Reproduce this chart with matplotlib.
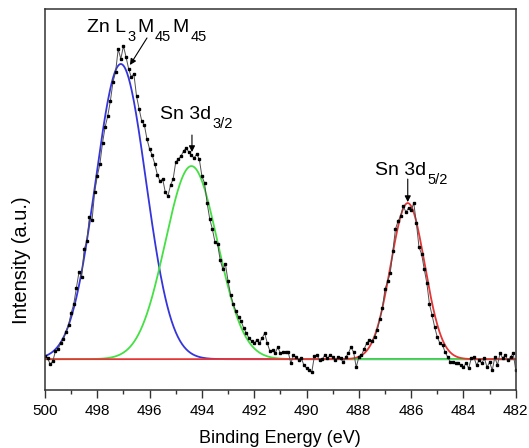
import numpy as np
import matplotlib.pyplot as plt
import matplotlib.transforms as mtransforms

plt.rcParams["font.family"] = "Liberation Sans"

# measured spectrum, 0.1 eV steps from 500.0 eV down to 482.0 eV (background subtracted)
counts = [
    3, 1, -5, -2, 8, 10, 16, 20, 27, 34,
    46, 55, 71, 87, 82, 110, 118, 142, 139, 167,
    183, 195, 216, 232, 243, 258, 277, 287, 310, 300,
    313, 302, 290, 282, 285, 263, 250, 238, 234, 220,
    210, 204, 195, 184, 178, 180,
    167, 163, 174, 180, 197, 200, 203, 208, 211, 207,
    204, 201, 205, 200, 183, 176, 156, 140, 130, 117,
    115, 99, 90, 95, 78, 64, 55, 48, 42, 38,
    31, 26, 21, 18, 16, 19, 16, 21, 26, 16,
    8, 9, 6, 12, 6, 7,
    7, 7, -4, 4, 2, -1, 1, -6, -9, -11,
    -13, 3, 4, -1, 0, 4, 1, 4, 2, -1,
    2, 1, -3, 2, 6, 12, 7, -8, 2, 4,
    10, 16, 19, 18, 22, 29, 40, 51, 70, 78,
    86, 108, 130, 138, 143, 153, 147, 151, 149, 156,
    136, 112, 105, 90, 76, 55, 44, 32, 22, 16,
    14, 7, 2, -3, -3, -4, -4, -6, -8, -4,
    -9, 1, 2, -6, -1, -4, 1, -8, -3, -11,
    2, -6, 6, 1, 4, -1, 2, 6, -11,
]
energy = np.linspace(500.0, 482.0, len(counts))

# fitted gaussian components: Zn L3M45M45, Sn 3d3/2, Sn 3d5/2
peak_centers = [497.1, 494.4, 486.13]
peak_heights = [295, 193, 156]
peak_sigmas = [0.96, 1.0, 0.65]
peak_colors = ["#3535dc", "#44e044", "#e53535"]

fig = plt.figure(figsize=(5.29, 4.48), dpi=100)
ax = fig.add_axes([0.085, 0.129, 0.890, 0.851])

fine = np.linspace(500, 482, 901)
for c, h, s, col in zip(peak_centers, peak_heights, peak_sigmas, peak_colors):
    ax.plot(fine, h * np.exp(-(fine - c) ** 2 / (2 * s ** 2)), color=col, lw=1.3)

ax.plot(energy, counts, color="#505050", lw=0.7, marker="s", ms=2.0,
        mfc="black", mec="black")

ax.set_xlim(500, 482)
ax.set_ylim(-31, 350)
ax.set_xticks(np.arange(500, 481, -2))
ax.set_xticks(np.arange(499, 482, -2), minor=True)
ax.set_yticks([])
ax.tick_params(axis="x", which="major", direction="out", length=6, width=1,
               labelsize=11, pad=4, color="#333333")
ax.tick_params(axis="x", which="minor", direction="out", length=3, width=1,
               color="#333333")
for sp in ax.spines.values():
    sp.set_linewidth(1.1)
    sp.set_color("#333333")

ax.set_xlabel("Binding Energy (eV)", fontsize=13)
ax.xaxis.set_label_coords(0.5, -0.105)
ax.set_ylabel("Intensity (a.u.)", fontsize=14.5)
ax.yaxis.set_label_coords(-0.03, 0.34)

renderer = fig.canvas.get_renderer()


def peak_label(x, y, parts):
    # main text and subscripts placed one after another
    dx = 0
    for s, sub in parts:
        tr = mtransforms.offset_copy(ax.transData, fig=fig, x=dx,
                                     y=-9 if sub else 0, units="dots")
        t = ax.text(x, y, s, fontsize=10.5 if sub else 14, transform=tr,
                    va="baseline")
        dx += t.get_window_extent(renderer).width + 1.5


arrow = dict(arrowstyle="-|>", color="black", lw=0.8, mutation_scale=9,
             shrinkA=0, shrinkB=0)
peak_label(498.4, 327, [("Zn L", False), ("3", True), ("M", False),
                        ("45", True), ("M", False), ("45", True)])
ax.annotate("", xy=(496.75, 294), xytext=(496.1, 321), arrowprops=arrow)
peak_label(495.61, 240, [("Sn 3d", False), ("3/2", True)])
ax.annotate("", xy=(494.38, 207), xytext=(494.38, 224), arrowprops=arrow)
peak_label(487.39, 184, [("Sn 3d", False), ("5/2", True)])
ax.annotate("", xy=(486.13, 157), xytext=(486.13, 180), arrowprops=arrow)

fig.savefig("out.png", dpi=100)
